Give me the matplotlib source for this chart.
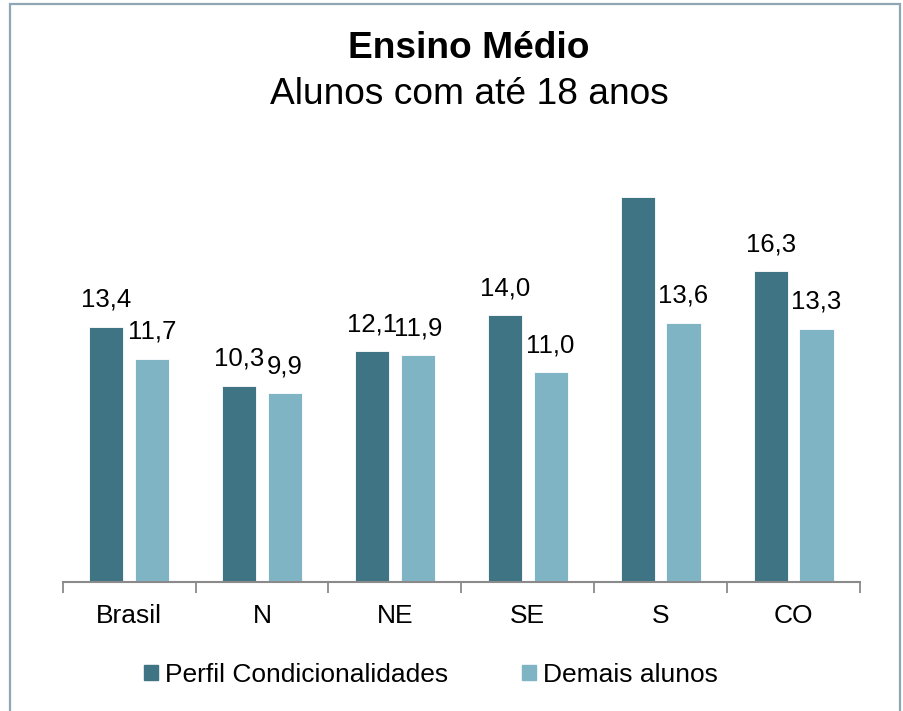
import numpy as np
import matplotlib.pyplot as plt
from matplotlib.patches import Rectangle, Patch

plt.rcParams['font.family'] = ['Liberation Sans', 'DejaVu Sans']

# Dados
regioes = ["Brasil", "N", "NE", "SE", "S", "CO"]
perfil = [13.4, 10.3, 12.1, 14.0, 20.2, 16.3]
demais = [11.7, 9.9, 11.9, 11.0, 13.6, 13.3]
# o valor do S (perfil) não aparece no original
rotulo_perfil = ["13,4", "10,3", "12,1", "14,0", None, "16,3"]
rotulo_demais = ["11,7", "9,9", "11,9", "11,0", "13,6", "13,3"]

cor_escura = "#3E7483"
cor_clara = "#7FB4C5"
cor_eixo = "#8A8A8A"

W, H = 904, 711
fig = plt.figure(figsize=(W / 100, H / 100), dpi=100)

# moldura
fig.patches.append(Rectangle((10 / W, -0.05), 890 / W, 1.05 - 4 / H,
                             transform=fig.transFigure, fill=False,
                             edgecolor="#8FA6B4", linewidth=1.6))

ax = fig.add_axes([62.7 / W, 1 - 582 / H, 797.3 / W, 432 / H])

x = np.arange(len(regioes))
larg = 0.258
desl = 0.172
b1 = ax.bar(x - desl, perfil, larg, color=cor_escura, edgecolor="white", linewidth=0.6)
b2 = ax.bar(x + desl, demais, larg, color=cor_clara, edgecolor="white", linewidth=0.6)

for rect, txt in zip(b1, rotulo_perfil):
    if txt:
        ax.annotate(txt, (rect.get_x() + rect.get_width() / 2, rect.get_height()),
                    xytext=(0, 11), textcoords="offset points",
                    ha="center", va="bottom", fontsize=18.5)
for rect, txt in zip(b2, rotulo_demais):
    ax.annotate(txt, (rect.get_x() + rect.get_width() / 2, rect.get_height()),
                xytext=(0, 11), textcoords="offset points",
                ha="center", va="bottom", fontsize=18.5)

ax.set_xlim(-0.5, len(regioes) - 0.5)
ax.set_ylim(0, 432 / 19.05)

for s in ["top", "right", "left"]:
    ax.spines[s].set_visible(False)
ax.spines["bottom"].set_color(cor_eixo)
ax.spines["bottom"].set_linewidth(1.5)
ax.set_yticks([])

ax.set_xticks(np.arange(-0.5, len(regioes)), [""] * (len(regioes) + 1))
ax.set_xticks(x, regioes, minor=True)
ax.tick_params(axis="x", which="major", length=8, width=1.3, color=cor_eixo)
ax.tick_params(axis="x", which="minor", length=0, pad=15.5, labelsize=19)

fig.text(469 / W, 1 - 48 / H, "Ensino Médio", ha="center", va="center",
         fontsize=26.7, fontweight="bold")
fig.text(469 / W, 1 - 95 / H, "Alunos com até 18 anos", ha="center", va="center",
         fontsize=26.7)

handles = [Patch(color=cor_escura), Patch(color=cor_clara)]
fig.legend(handles, ["Perfil Condicionalidades", "Demais alunos"],
           loc="center", bbox_to_anchor=(431 / W, 1 - 675 / H), ncol=2,
           frameon=False, fontsize=19, handlelength=0.53, handleheight=0.5,
           handletextpad=0.27, columnspacing=2.8)

fig.savefig("out.png", dpi=100)
